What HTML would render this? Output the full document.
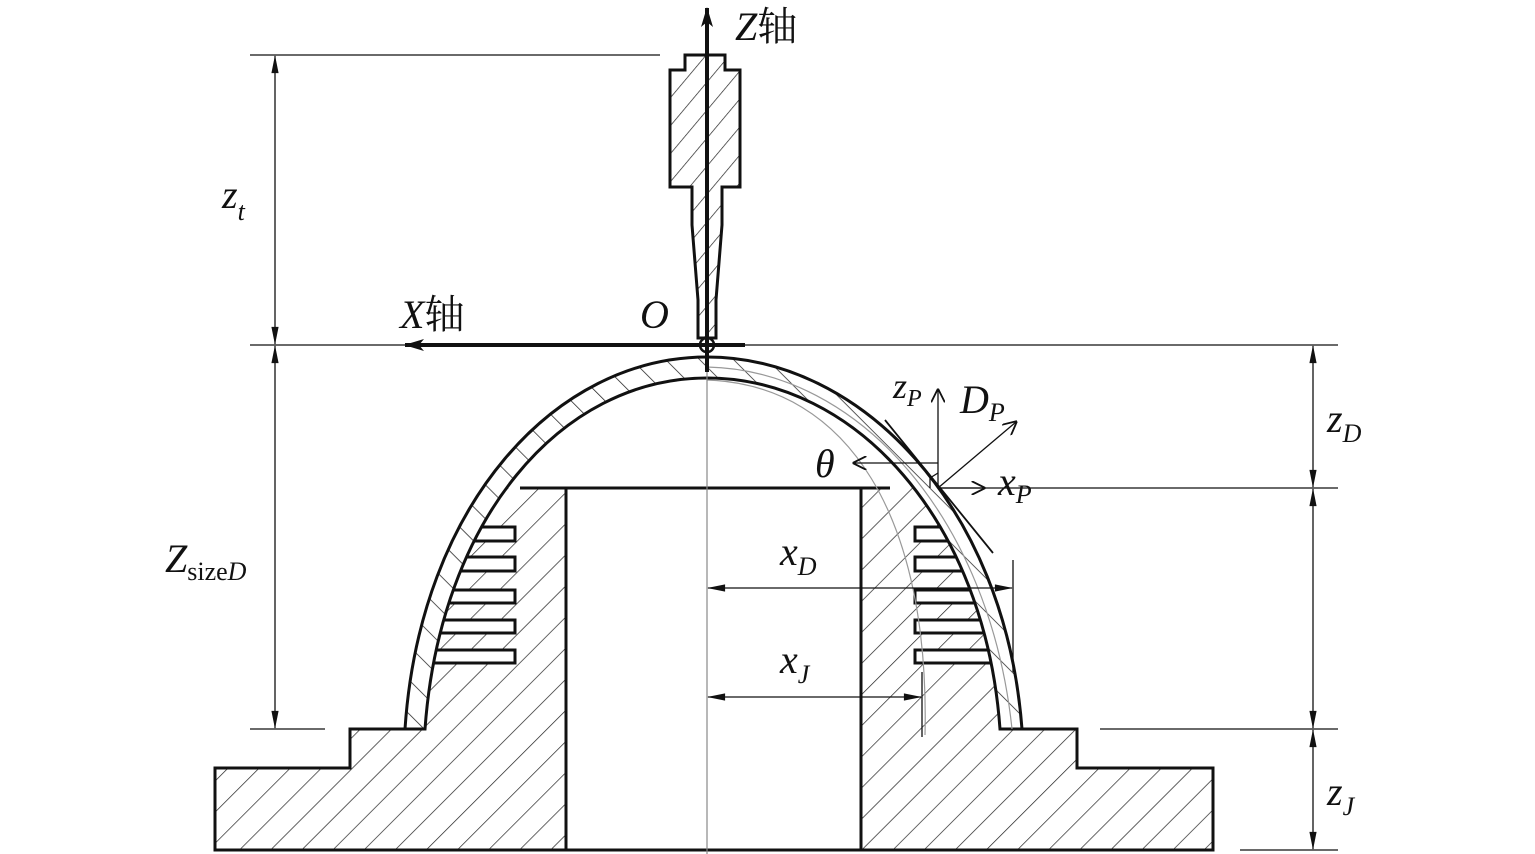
<!DOCTYPE html>
<html><head><meta charset="utf-8"><style>
html,body{margin:0;padding:0;background:#fff}
svg{display:block}
text{font-family:"Liberation Serif","Noto Serif CJK SC",serif;fill:#111}
</style></head><body>
<svg width="1535" height="854" viewBox="0 0 1535 854" xmlns="http://www.w3.org/2000/svg">
<defs>
<pattern id="h1" patternUnits="userSpaceOnUse" width="22" height="22" patternTransform="rotate(45)">
<line x1="0" y1="0" x2="0" y2="22" stroke="#222" stroke-width="1.4"/></pattern>
<pattern id="h2" patternUnits="userSpaceOnUse" width="24" height="24" patternTransform="rotate(-45)">
<line x1="0" y1="0" x2="0" y2="24" stroke="#222" stroke-width="1.5"/></pattern>
<pattern id="h3" patternUnits="userSpaceOnUse" width="18" height="18" patternTransform="rotate(40)">
<line x1="0" y1="0" x2="0" y2="18" stroke="#222" stroke-width="1.4"/></pattern>
<clipPath id="inner"><path d="M425,729 C440,520 560,378 707,378 C855,378 985,520 1000,729 Z"/></clipPath>
<marker id="a" viewBox="0 0 20 10" refX="19" refY="5" markerWidth="20" markerHeight="9" markerUnits="userSpaceOnUse" orient="auto-start-reverse"><path d="M0,1 L20,5 L0,9 z" fill="#111"/></marker>
<marker id="ax" viewBox="0 0 20 12" refX="19" refY="6" markerWidth="20" markerHeight="12" markerUnits="userSpaceOnUse" orient="auto"><path d="M0,0 L20,6 L0,12 L5,6 z" fill="#111"/></marker>
<marker id="o" viewBox="0 0 10 10" refX="9" refY="5" markerWidth="14" markerHeight="14" markerUnits="userSpaceOnUse" orient="auto"><path d="M0,0 L10,5 L0,10" fill="none" stroke="#111" stroke-width="1.3"/></marker>
</defs>

<!-- base -->
<path d="M215,850 V768 H350 V729 H566 V850 Z" fill="url(#h1)"/>
<path d="M1213,850 V768 H1077 V729 H861 V850 Z" fill="url(#h1)"/>
<path d="M566,850 H215 V768 H350 V729 H410" fill="none" stroke="#111" stroke-width="3"/>
<path d="M861,850 H1213 V768 H1077 V729 H1018" fill="none" stroke="#111" stroke-width="3"/>
<!-- core -->
<g clip-path="url(#inner)">
<rect x="400" y="488" width="166" height="245" fill="url(#h1)"/>
<rect x="861" y="488" width="160" height="245" fill="url(#h1)"/>
</g>
<rect x="566" y="488" width="295" height="362" fill="#fff" stroke="#111" stroke-width="3"/>
<line x1="520" y1="488" x2="566" y2="488" stroke="#111" stroke-width="3"/>
<line x1="861" y1="488" x2="890" y2="488" stroke="#111" stroke-width="3"/>
<!-- fins -->
<g clip-path="url(#inner)" fill="#fff" stroke="#111" stroke-width="3">
<rect x="420" y="527" width="95" height="14"/><rect x="420" y="557" width="95" height="14"/>
<rect x="420" y="590" width="95" height="13"/><rect x="420" y="620" width="95" height="13"/>
<rect x="420" y="650" width="95" height="13"/>
<rect x="915" y="527" width="100" height="14"/><rect x="915" y="557" width="100" height="14"/>
<rect x="915" y="590" width="100" height="13"/><rect x="915" y="620" width="100" height="13"/>
<rect x="915" y="650" width="100" height="13"/>
</g>
<!-- shell -->
<path d="M405,729 C420,505 555,357 707,357 C860,357 1005,505 1022,729 L1000,729 C985,520 855,378 707,378 C560,378 440,520 425,729 Z" fill="url(#h2)" stroke="#111" stroke-width="3"/>
<path d="M707,367 C860,370 990,520 1012,729" fill="none" stroke="#999" stroke-width="1.2"/>
<path d="M707,380 C850,385 930,520 925,735" fill="none" stroke="#999" stroke-width="1.2"/>

<!-- center line -->
<line x1="707" y1="345" x2="707" y2="854" stroke="#888" stroke-width="1.2"/>

<!-- tool -->
<path d="M685,55 H725 V70 H740 V187 H722 V225 L716,300 V338 H698 V300 L692,225 V187 H670 V70 H685 Z" fill="url(#h3)" stroke="#111" stroke-width="3"/>
<circle cx="707" cy="345" r="7" fill="none" stroke="#111" stroke-width="2.5"/>
<line x1="707" y1="372" x2="707" y2="8" stroke="#111" stroke-width="4" marker-end="url(#ax)"/>
<line x1="745" y1="345" x2="405" y2="345" stroke="#111" stroke-width="4" marker-end="url(#ax)"/>
<line x1="745" y1="345" x2="1338" y2="345" stroke="#111" stroke-width="1.3"/>
<line x1="250" y1="345" x2="405" y2="345" stroke="#111" stroke-width="1.3"/>

<!-- dimension lines -->
<g stroke="#111" stroke-width="1.3">
<line x1="250" y1="55" x2="660" y2="55"/>
<line x1="250" y1="729" x2="325" y2="729"/>
<line x1="940" y1="488" x2="1338" y2="488"/>
<line x1="1100" y1="729" x2="1338" y2="729"/>
<line x1="1240" y1="850" x2="1338" y2="850"/>
<line x1="275" y1="56" x2="275" y2="344" marker-start="url(#a)" marker-end="url(#a)"/>
<line x1="275" y1="346" x2="275" y2="728" marker-start="url(#a)" marker-end="url(#a)"/>
<line x1="1313" y1="346" x2="1313" y2="487" marker-start="url(#a)" marker-end="url(#a)"/>
<line x1="1313" y1="489" x2="1313" y2="728" marker-start="url(#a)" marker-end="url(#a)"/>
<line x1="1313" y1="730" x2="1313" y2="849" marker-start="url(#a)" marker-end="url(#a)"/>
<line x1="708" y1="588" x2="1012" y2="588" marker-start="url(#a)" marker-end="url(#a)"/>
<line x1="1013" y1="560" x2="1013" y2="672"/>
<line x1="708" y1="697" x2="921" y2="697" marker-start="url(#a)" marker-end="url(#a)"/>
<line x1="922" y1="672" x2="922" y2="737"/>
<!-- local frame -->
<line x1="938" y1="488" x2="938" y2="390" marker-end="url(#o)"/>
<line x1="938" y1="463" x2="854" y2="463" marker-end="url(#o)"/>
<line x1="938" y1="488" x2="1016" y2="422" marker-end="url(#o)"/>
<line x1="938" y1="488" x2="984" y2="488" marker-end="url(#o)"/>
<line x1="885" y1="420" x2="993" y2="553" stroke-width="1.8"/>
<path d="M930,488 L930,478 L938,473" fill="none"/>
</g>

<!-- labels -->
<text x="735" y="40" font-size="40"><tspan font-style="italic">Z</tspan>轴</text>
<text x="400" y="328" font-size="40"><tspan font-style="italic">X</tspan>轴</text>
<text x="640" y="328" font-size="40" font-style="italic">O</text>
<text x="222" y="208" font-size="40" font-style="italic">z<tspan font-size="26" dy="12">t</tspan></text>
<text x="165" y="572" font-size="40"><tspan font-style="italic">Z</tspan><tspan font-size="26" dy="8">size</tspan><tspan font-size="26" font-style="italic">D</tspan></text>
<text x="1327" y="432" font-size="40" font-style="italic">z<tspan font-size="26" dy="10">D</tspan></text>
<text x="1327" y="805" font-size="40" font-style="italic">z<tspan font-size="26" dy="10">J</tspan></text>
<text x="780" y="565" font-size="40" font-style="italic">x<tspan font-size="26" dy="10">D</tspan></text>
<text x="780" y="673" font-size="40" font-style="italic">x<tspan font-size="26" dy="10">J</tspan></text>
<text x="815" y="477" font-size="40" font-style="italic">θ</text>
<text x="893" y="398" font-size="36" font-style="italic">z<tspan font-size="24" dy="8">P</tspan></text>
<text x="960" y="413" font-size="40" font-style="italic">D<tspan font-size="26" dy="8">P</tspan></text>
<text x="998" y="495" font-size="40" font-style="italic">x<tspan font-size="26" dy="8">P</tspan></text>
</svg>
</body></html>
